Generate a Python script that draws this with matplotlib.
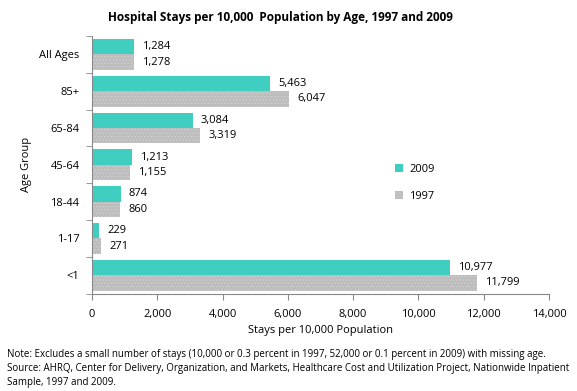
import matplotlib
matplotlib.use("Agg")
import matplotlib.pyplot as plt
import numpy as np

categories = ["All Ages", "85+", "65-84", "45-64", "18-44", "1-17", "<1"]
v2009 = [1284, 5463, 3084, 1213, 874, 229, 10977]
v1997 = [1278, 6047, 3319, 1155, 860, 271, 11799]
xticks = [0, 2000, 4000, 6000, 8000, 10000, 12000, 14000]

plt.rcParams['font.family'] = ['Open Sans', 'DejaVu Sans']
plt.rcParams['hatch.color'] = '#d8d8d8'
plt.rcParams['hatch.linewidth'] = 0.6

W, H = 577, 391
fig = plt.figure(figsize=(W/100, H/100), dpi=100)
ax = fig.add_axes([92/W, 1-293.5/H, (549-92)/W, (293.5-36)/H])

n = len(categories)
y = np.arange(n)[::-1]
h = 0.42
teal = '#40CEC0'
gray = '#BDBDBD'
fs = 8.0
ax.barh(y + h/2, v2009, height=h, color=teal, label='2009')
ax.barh(y - h/2, v1997, height=h, color=gray, hatch='.....', edgecolor='#d0d0d0', linewidth=0, label='1997')

for yi, a, b in zip(y, v2009, v1997):
    ax.text(a + 250, yi + h/2, f"{a:,}", va='center', ha='left', fontsize=fs)
    ax.text(b + 250, yi - h/2, f"{b:,}", va='center', ha='left', fontsize=fs)

ax.set_xlim(0, 14000)
ax.set_ylim(-0.5, n - 0.5)
ax.set_xticks(xticks)
ax.set_xticklabels([f"{t:,}" for t in xticks], fontsize=fs)
ax.set_yticks(y)
ax.set_yticklabels(categories, fontsize=fs)
ax.set_yticks(np.arange(-0.5, n, 1), minor=True)
ax.tick_params(axis='y', which='major', length=0, pad=9)
ax.tick_params(axis='y', which='minor', length=4, color='#888888', direction='out')
ax.tick_params(axis='x', length=4, color='#888888', direction='out', pad=7)
for s in ['top', 'right']:
    ax.spines[s].set_visible(False)
for s in ['left', 'bottom']:
    ax.spines[s].set_color('#888888')
    ax.spines[s].set_linewidth(0.8)

ax.set_xlabel("Stays per 10,000 Population", fontsize=fs, labelpad=4)
ax.set_ylabel("Age Group", fontsize=fs, labelpad=5)

leg = fig.legend(loc='upper left', bbox_to_anchor=(385/W, 1-154/H), frameon=False,
                 fontsize=fs, handlelength=0.7, handleheight=0.7, labelspacing=1.4,
                 handletextpad=0.6)

fig.text(280/W, 1-18/H, "Hospital Stays per 10,000  Population by Age, 1997 and 2009",
         ha='center', va='center', fontsize=8.5, fontweight='bold')

notes = ["Note: Excludes a small number of stays (10,000 or 0.3 percent in 1997, 52,000 or 0.1 percent in 2009) with missing age.",
         "Source: AHRQ, Center for Delivery, Organization, and Markets, Healthcare Cost and Utilization Project, Nationwide Inpatient",
         "Sample, 1997 and 2009."]
for i, t in enumerate(notes):
    fig.text(7/W, 1-(355 + 14*i)/H, t, ha='left', va='center', fontsize=7.0)

fig.savefig("out.png", dpi=100)
